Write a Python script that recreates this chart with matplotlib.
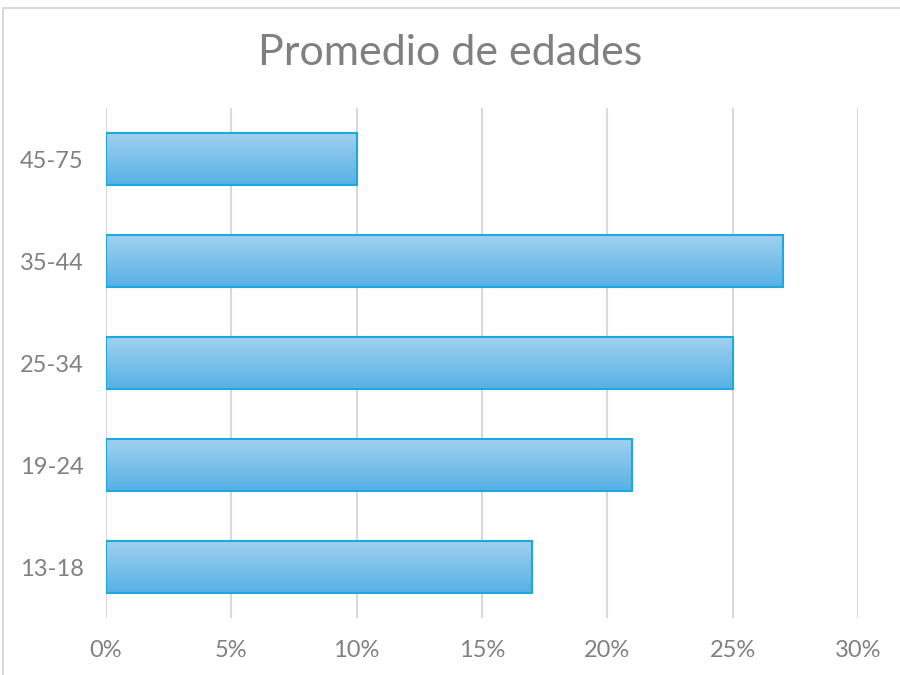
import matplotlib.pyplot as plt
import numpy as np
from matplotlib.patches import Rectangle
from matplotlib.colors import LinearSegmentedColormap
from matplotlib.ticker import FuncFormatter

# age groups, bottom to top
groups = ['13-18', '19-24', '25-34', '35-44', '45-75']
shares = [17, 21, 25, 27, 10]  # percent
xticks = [0, 5, 10, 15, 20, 25, 30]

plt.rcParams['font.family'] = ['Lato', 'DejaVu Sans']
grey = '#808080'

fig = plt.figure(figsize=(9, 6.75), dpi=100)
ax = fig.add_axes([106 / 900, 1 - 618 / 675, 752 / 900, 510 / 675])

# light outline around the chart area (only left/top fall inside the image)
fig.patches.append(Rectangle((3 / 900, -0.1), 1.2, 1 - 8 / 675 + 0.1,
                             transform=fig.transFigure, fill=False,
                             edgecolor='#d9d9d9', linewidth=1.5))

y = np.arange(len(groups))
bars = ax.barh(y, shares, height=0.51, color='none', edgecolor='#1ea8e0',
               linewidth=1.5, zorder=3)

# vertical gradient fill, lighter at the top of each bar
grad = LinearSegmentedColormap.from_list('bar', ['#56b1e5', '#a2d1ef'])
ramp = np.linspace(0, 1, 64).reshape(-1, 1)
for b in bars:
    x0, y0 = b.get_x(), b.get_y()
    im = ax.imshow(ramp, cmap=grad, aspect='auto', origin='lower',
                   extent=[x0, x0 + b.get_width(), y0, y0 + b.get_height()],
                   zorder=2)
    im.set_clip_path(b)

ax.set_xlim(0, 30)
ax.set_ylim(-0.5, len(groups) - 0.5)
ax.set_xticks(xticks)
ax.xaxis.set_major_formatter(FuncFormatter(lambda v, p: f'{v:.0f}%'))
ax.set_yticks(y)
ax.set_yticklabels(groups)
ax.grid(axis='x', color='#d9d9d9', linewidth=1.5, zorder=0)
ax.set_axisbelow(True)
for s in ax.spines.values():
    s.set_visible(False)
ax.tick_params(length=0, labelsize=17, labelcolor=grey)
ax.tick_params(axis='x', pad=16)
ax.tick_params(axis='y', pad=16)

fig.text(0.5, 1 - 53 / 675, 'Promedio de edades', ha='center', va='center',
         fontsize=31, color=grey)

fig.savefig('out.png', dpi=100)
